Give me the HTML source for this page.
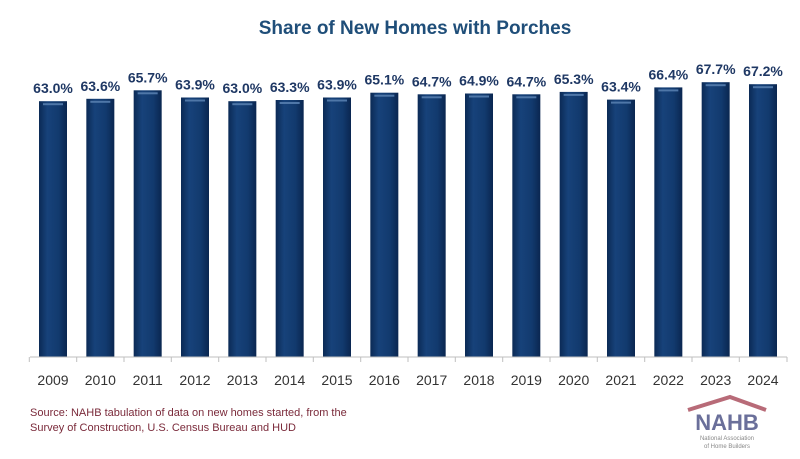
<!DOCTYPE html><html><head><style>body{margin:0;background:#fff}</style></head><body>
<svg width="800" height="454" xmlns="http://www.w3.org/2000/svg" font-family="Liberation Sans, sans-serif">
<defs><linearGradient id="g" x1="0" x2="1" y1="0" y2="0"><stop offset="0" stop-color="#0b2a55"/><stop offset="0.3" stop-color="#17427a"/><stop offset="0.7" stop-color="#123a6e"/><stop offset="1" stop-color="#0a2650"/></linearGradient></defs>
<text x="415" y="34" text-anchor="middle" font-size="19" font-weight="bold" fill="#1f4e79">Share of New Homes with Porches</text>
<g font-size="14" text-anchor="middle">
<g transform="translate(53,0)"><rect x="-14" y="101.2" width="28" height="255.8" fill="url(#g)"/><rect x="-10" y="103.2" width="20" height="2" fill="#4f77a8"/><text y="93.2" font-weight="bold" fill="#1f3864">63.0%</text><text y="385" fill="#333">2009</text></g>
<g transform="translate(100.33,0)"><rect x="-14" y="98.8" width="28" height="258.2" fill="url(#g)"/><rect x="-10" y="100.8" width="20" height="2" fill="#4f77a8"/><text y="90.8" font-weight="bold" fill="#1f3864">63.6%</text><text y="385" fill="#333">2010</text></g>
<g transform="translate(147.67,0)"><rect x="-14" y="90.3" width="28" height="266.7" fill="url(#g)"/><rect x="-10" y="92.3" width="20" height="2" fill="#4f77a8"/><text y="82.3" font-weight="bold" fill="#1f3864">65.7%</text><text y="385" fill="#333">2011</text></g>
<g transform="translate(195,0)"><rect x="-14" y="97.5" width="28" height="259.5" fill="url(#g)"/><rect x="-10" y="99.5" width="20" height="2" fill="#4f77a8"/><text y="89.5" font-weight="bold" fill="#1f3864">63.9%</text><text y="385" fill="#333">2012</text></g>
<g transform="translate(242.33,0)"><rect x="-14" y="101.2" width="28" height="255.8" fill="url(#g)"/><rect x="-10" y="103.2" width="20" height="2" fill="#4f77a8"/><text y="93.2" font-weight="bold" fill="#1f3864">63.0%</text><text y="385" fill="#333">2013</text></g>
<g transform="translate(289.67,0)"><rect x="-14" y="100" width="28" height="257" fill="url(#g)"/><rect x="-10" y="102" width="20" height="2" fill="#4f77a8"/><text y="92" font-weight="bold" fill="#1f3864">63.3%</text><text y="385" fill="#333">2014</text></g>
<g transform="translate(337,0)"><rect x="-14" y="97.5" width="28" height="259.5" fill="url(#g)"/><rect x="-10" y="99.5" width="20" height="2" fill="#4f77a8"/><text y="89.5" font-weight="bold" fill="#1f3864">63.9%</text><text y="385" fill="#333">2015</text></g>
<g transform="translate(384.33,0)"><rect x="-14" y="92.7" width="28" height="264.3" fill="url(#g)"/><rect x="-10" y="94.7" width="20" height="2" fill="#4f77a8"/><text y="84.7" font-weight="bold" fill="#1f3864">65.1%</text><text y="385" fill="#333">2016</text></g>
<g transform="translate(431.67,0)"><rect x="-14" y="94.3" width="28" height="262.7" fill="url(#g)"/><rect x="-10" y="96.3" width="20" height="2" fill="#4f77a8"/><text y="86.3" font-weight="bold" fill="#1f3864">64.7%</text><text y="385" fill="#333">2017</text></g>
<g transform="translate(479,0)"><rect x="-14" y="93.5" width="28" height="263.5" fill="url(#g)"/><rect x="-10" y="95.5" width="20" height="2" fill="#4f77a8"/><text y="85.5" font-weight="bold" fill="#1f3864">64.9%</text><text y="385" fill="#333">2018</text></g>
<g transform="translate(526.33,0)"><rect x="-14" y="94.3" width="28" height="262.7" fill="url(#g)"/><rect x="-10" y="96.3" width="20" height="2" fill="#4f77a8"/><text y="86.3" font-weight="bold" fill="#1f3864">64.7%</text><text y="385" fill="#333">2019</text></g>
<g transform="translate(573.67,0)"><rect x="-14" y="91.9" width="28" height="265.1" fill="url(#g)"/><rect x="-10" y="93.9" width="20" height="2" fill="#4f77a8"/><text y="83.9" font-weight="bold" fill="#1f3864">65.3%</text><text y="385" fill="#333">2020</text></g>
<g transform="translate(621,0)"><rect x="-14" y="99.6" width="28" height="257.4" fill="url(#g)"/><rect x="-10" y="101.6" width="20" height="2" fill="#4f77a8"/><text y="91.6" font-weight="bold" fill="#1f3864">63.4%</text><text y="385" fill="#333">2021</text></g>
<g transform="translate(668.33,0)"><rect x="-14" y="87.4" width="28" height="269.6" fill="url(#g)"/><rect x="-10" y="89.4" width="20" height="2" fill="#4f77a8"/><text y="79.4" font-weight="bold" fill="#1f3864">66.4%</text><text y="385" fill="#333">2022</text></g>
<g transform="translate(715.67,0)"><rect x="-14" y="82.2" width="28" height="274.8" fill="url(#g)"/><rect x="-10" y="84.2" width="20" height="2" fill="#4f77a8"/><text y="74.2" font-weight="bold" fill="#1f3864">67.7%</text><text y="385" fill="#333">2023</text></g>
<g transform="translate(763,0)"><rect x="-14" y="84.2" width="28" height="272.8" fill="url(#g)"/><rect x="-10" y="86.2" width="20" height="2" fill="#4f77a8"/><text y="76.2" font-weight="bold" fill="#1f3864">67.2%</text><text y="385" fill="#333">2024</text></g>
</g>
<line x1="30" y1="357" x2="787" y2="357" stroke="#bfbfbf"/>
<path d="M29.3 357v5M76.7 357v5M124 357v5M171.3 357v5M218.7 357v5M266 357v5M313.3 357v5M360.7 357v5M408 357v5M455.3 357v5M502.7 357v5M550 357v5M597.3 357v5M644.7 357v5M692 357v5M739.3 357v5M787 357v5" stroke="#bfbfbf"/>
<text x="30" y="416" font-size="11" fill="#7a2a3a">Source: NAHB tabulation of data on new homes started, from the</text>
<text x="30" y="431" font-size="11" fill="#7a2a3a">Survey of Construction, U.S. Census Bureau and HUD</text>
<path d="M688 410 L730 397 L766 410" fill="none" stroke="#b86b78" stroke-width="4"/>
<text x="727" y="430" text-anchor="middle" font-size="22" font-weight="bold" fill="#6a6f9a">NAHB</text>
<text x="727" y="440" text-anchor="middle" font-size="6" fill="#888">National Association</text>
<text x="727" y="448" text-anchor="middle" font-size="6" fill="#888">of Home Builders</text>
</svg></body></html>
